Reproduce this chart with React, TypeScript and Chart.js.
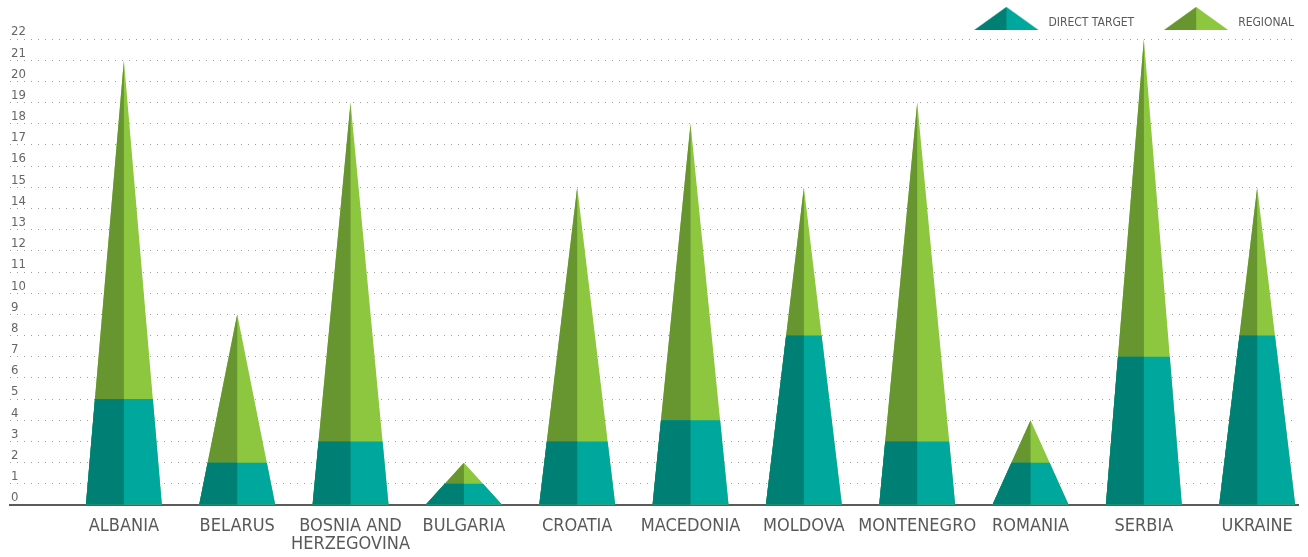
import { useEffect, useRef } from 'react';
import { Chart, registerables } from 'chart.js';

Chart.register(...registerables);

// ---- data ----
const countries = [
  'ALBANIA', 'BELARUS', 'BOSNIA AND HERZEGOVINA', 'BULGARIA', 'CROATIA', 'MACEDONIA',
  'MOLDOVA', 'MONTENEGRO', 'ROMANIA', 'SERBIA', 'UKRAINE',
];
const countryTickLabels: (string | string[])[] = [
  'ALBANIA', 'BELARUS', ['BOSNIA AND', 'HERZEGOVINA'], 'BULGARIA', 'CROATIA', 'MACEDONIA',
  'MOLDOVA', 'MONTENEGRO', 'ROMANIA', 'SERBIA', 'UKRAINE',
];
const directTarget = [5, 2, 3, 1, 3, 4, 8, 3, 2, 7, 8];
const regional = [16, 7, 16, 1, 12, 14, 7, 16, 2, 15, 7];
const seriesNames = ['DIRECT TARGET', 'REGIONAL'];
const yMin = 0;
const yMax = 22;

// ---- styling ----
const TEAL = { dark: '#007f74', light: '#00a79d' };
const GREEN = { dark: '#679530', light: '#8dc63f' };
const FONT = "'DejaVu Sans Condensed', 'Liberation Sans Narrow', 'DejaVu Sans', sans-serif";
const TEXT_GREY = '#58595b';

// two-tone triangle used as legend marker (transparent margin on the left, below the shape)
const ICON_MARGIN = 19;
function makeLegendIcon(dark: string, light: string): HTMLCanvasElement {
  const c = document.createElement('canvas');
  c.width = ICON_MARGIN + 68;
  c.height = 32;
  const g = c.getContext('2d')!;
  const left = ICON_MARGIN, right = ICON_MARGIN + 64, apex = 0, base = 23;
  const mid = (left + right) / 2;
  g.fillStyle = light;
  g.beginPath();
  g.moveTo(left, base); g.lineTo(right, base); g.lineTo(mid, apex); g.closePath();
  g.fill();
  g.fillStyle = dark;
  g.beginPath();
  g.moveTo(left, base); g.lineTo(mid, base); g.lineTo(mid, apex); g.closePath();
  g.fill();
  return c;
}

function fillPoly(ctx: CanvasRenderingContext2D, pts: number[][], color: string) {
  ctx.fillStyle = color;
  ctx.beginPath();
  ctx.moveTo(pts[0][0], pts[0][1]);
  for (let i = 1; i < pts.length; i++) ctx.lineTo(pts[i][0], pts[i][1]);
  ctx.closePath();
  ctx.fill();
}

// Renders each stacked column as a split cone: regional on top, direct target at the base
const conePlugin = {
  id: 'cones',
  beforeDatasetsDraw(chart: any) {
    const ctx: CanvasRenderingContext2D = chart.ctx;
    const low = chart.getDatasetMeta(0);
    const high = chart.getDatasetMeta(1);
    ctx.save();
    low.data.forEach((el: any, i: number) => {
      const p = el.getProps(['x', 'y', 'base', 'width'], true);
      const apexY = high.data[i].getProps(['y'], true).y;
      const x = p.x;
      const base = p.base;
      const split = p.y;
      const hw = p.width / 2;
      const h = base - apexY;
      const hs = h > 0 ? (hw * (split - apexY)) / h : 0;
      // whole cone in regional colours
      fillPoly(ctx, [[x - hw, base], [x + hw, base], [x, apexY]], GREEN.light);
      fillPoly(ctx, [[x - hw, base], [x, base], [x, apexY]], GREEN.dark);
      // lower section in direct-target colours
      fillPoly(ctx, [[x - hw, base], [x + hw, base], [x + hs, split], [x - hs, split]], TEAL.light);
      fillPoly(ctx, [[x - hw, base], [x, base], [x, split], [x - hs, split]], TEAL.dark);
    });
    ctx.restore();
    return false;
  },
};

export default function App() {
  const ref = useRef<HTMLCanvasElement | null>(null);

  useEffect(() => {
    if (!ref.current) return;
    Chart.defaults.font.family = FONT;
    const icons = [makeLegendIcon(TEAL.dark, TEAL.light), makeLegendIcon(GREEN.dark, GREEN.light)];

    const chart = new Chart(ref.current, {
      type: 'bar',
      data: {
        datasets: [
          {
            label: seriesNames[0],
            data: countries.map((_, i) => ({ x: i, y: directTarget[i] })),
            backgroundColor: TEAL.light,
          },
          {
            label: seriesNames[1],
            data: countries.map((_, i) => ({ x: i, y: regional[i] })),
            backgroundColor: GREEN.light,
          },
        ],
      },
      options: {
        animation: false,
        responsive: true,
        maintainAspectRatio: false,
        events: [],
        layout: { padding: { left: 8, right: 3, top: 6, bottom: 0 } },
        datasets: { bar: { categoryPercentage: 1, barPercentage: 0.67 } },
        plugins: {
          tooltip: { enabled: false },
          legend: {
            position: 'top',
            align: 'end',
            labels: {
              usePointStyle: true,
              pointStyleWidth: ICON_MARGIN + 68,
              padding: 11,
              color: TEXT_GREY,
              font: { size: 12, family: FONT },
              generateLabels: (ch: any) =>
                ch.data.datasets.map((ds: any, i: number) => ({
                  text: ds.label,
                  pointStyle: icons[i],
                  fillStyle: ds.backgroundColor,
                  strokeStyle: 'rgba(0,0,0,0)',
                  lineWidth: 0,
                  hidden: false,
                  datasetIndex: i,
                  fontColor: TEXT_GREY,
                })),
            },
          },
        },
        scales: {
          x: {
            type: 'linear',
            stacked: true,
            offset: false,
            min: -1.005,
            max: 10.36,
            grid: { display: false },
            border: { display: true, color: '#5b5b5b', width: 2 },
            afterBuildTicks: (scale: any) => {
              scale.ticks = countries.map((_, i) => ({ value: i }));
            },
            afterFit: (scale: any) => {
              scale.height = 52;
              scale.paddingRight = 10;
            },
            ticks: {
              autoSkip: false,
              maxRotation: 0,
              minRotation: 0,
              padding: 4,
              color: TEXT_GREY,
              font: { size: 18, family: FONT, lineHeight: 1 },
              callback: (v: any) => countryTickLabels[v as number] ?? '',
            },
          },
          y: {
            stacked: true,
            min: yMin,
            max: yMax,
            grid: { display: true, color: '#9d9d9d', lineWidth: 1, drawTicks: false },
            border: { display: false, dash: [1, 6] },
            ticks: {
              stepSize: 1,
              mirror: true,
              padding: 1,
              labelOffset: -7,
              color: '#666666',
              font: { size: 13, family: FONT },
            },
          },
        },
      },
      plugins: [conePlugin],
    } as any);

    return () => chart.destroy();
  }, []);

  return (
    <div style={{ position: 'fixed', left: 0, top: 0, width: '100vw', height: '100vh' }}>
      <canvas ref={ref} />
    </div>
  );
}
